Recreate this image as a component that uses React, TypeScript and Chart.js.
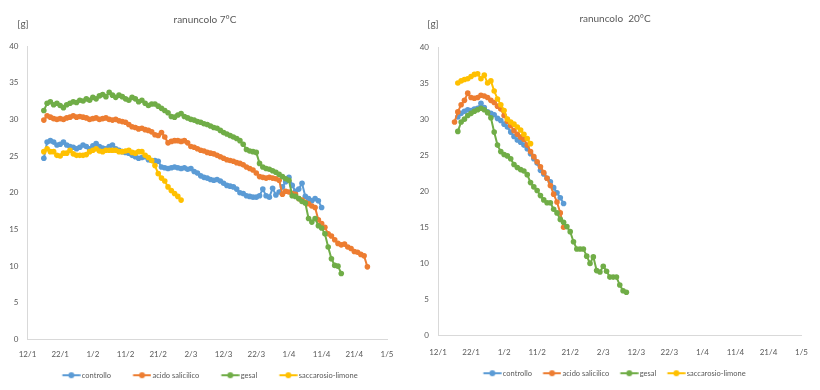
import React, { useEffect, useRef } from 'react';
import { Chart, registerables } from 'chart.js';

Chart.register(...registerables);

const FONT_FAMILY = 'Lato, "Liberation Sans", Arial, sans-serif';
const TEXT_COLOR = '#595959';
const AXIS_COLOR = '#d9d9d9';

// x axis: days counted from 12/1 (leap year 2016), one label every 10 days
const xTickLabels = ['12/1', '22/1', '1/2', '11/2', '21/2', '2/3', '12/3', '22/3', '1/4', '11/4', '21/4', '1/5'];

const seriesNames = ['controllo', 'acido salicilico', 'gesal', 'saccarosio-limone'];
const seriesColors = ['#5B9BD5', '#ED7D31', '#70AD47', '#FFC000'];

// ---------- ranuncolo 7°C (daily weights, first day = day offset from 12/1) ----------
const coldStartDays = [5, 5, 5, 5];
const coldControllo = [
  24.7, 26.9, 27.1, 26.9, 26.5, 26.6, 26.9, 26.5, 26.3, 26.2,
  26.0, 26.2, 26.5, 26.3, 26.0, 26.4, 26.7, 26.3, 26.1, 26.0,
  26.3, 26.5, 26.0, 25.8, 25.6, 25.5, 25.4, 25.1, 24.9, 24.7,
  24.8, 24.9, 24.5, 24.4, 24.4, 24.3, 23.5, 23.4, 23.3, 23.4,
  23.5, 23.4, 23.3, 23.4, 23.2, 23.3, 22.9, 22.7, 22.3, 22.1,
  22.0, 21.8, 21.7, 21.8, 21.6, 21.3, 21.0, 20.9, 20.8, 20.5,
  20.0, 19.9, 19.6, 19.5, 19.4, 19.4, 19.6, 20.5, 19.6, 19.4,
  20.6, 19.7, 20.1, 20.8, 21.5, 22.1, 21.0, 20.2, 20.5, 21.3,
  19.5, 19.2, 18.9, 19.2, 18.9, 18.0,
];
const coldAcido = [
  29.9, 30.5, 30.3, 30.1, 30.0, 30.1, 30.0, 30.2, 30.3, 30.5,
  30.3, 30.4, 30.3, 30.2, 30.0, 30.1, 30.2, 30.0, 30.1, 30.2,
  30.0, 29.9, 30.0, 29.8, 29.7, 29.6, 29.3, 29.0, 28.9, 28.7,
  28.8, 28.6, 28.5, 28.3, 27.9, 27.8, 28.2, 27.6, 26.8, 27.0,
  27.1, 27.1, 27.0, 27.1, 26.8, 26.3, 26.2, 26.0, 25.8, 25.7,
  25.5, 25.4, 25.3, 25.1, 24.9, 24.7, 24.5, 24.4, 24.3, 24.1,
  24.0, 23.8, 23.5, 23.3, 23.1, 22.7, 22.2, 22.1, 22.0, 22.1,
  22.0, 21.9, 21.7, 19.8, 20.2, 20.1, 19.9, 19.8, 19.2, 19.0,
  18.7, 18.5, 18.2, 18.0, 16.3, 15.8, 15.3, 14.4, 14.1, 13.6,
  13.1, 12.9, 13.0, 12.6, 12.4, 12.0, 11.9, 11.6, 11.4, 9.9,
];
const coldGesal = [
  31.2, 32.2, 32.4, 32.0, 32.2, 31.9, 31.6, 32.0, 32.2, 32.4,
  32.3, 32.6, 32.5, 32.8, 32.6, 33.0, 32.8, 33.2, 33.4, 33.1,
  33.7, 33.3, 33.0, 33.3, 33.1, 32.8, 32.6, 33.0, 32.8, 32.4,
  32.6, 32.2, 31.9, 32.1, 32.1, 31.8, 31.5, 31.2, 30.9, 30.4,
  30.3, 30.6, 30.8, 30.4, 30.2, 30.0, 29.9, 29.7, 29.6, 29.4,
  29.3, 29.1, 28.9, 28.8, 28.5, 28.2, 28.0, 27.8, 27.6, 27.4,
  27.1, 26.6, 25.9, 25.7, 25.6, 25.5, 24.0, 23.5, 23.3, 23.2,
  23.0, 22.8, 22.5, 22.2, 21.9, 21.7, 19.6, 19.5, 19.2, 18.8,
  18.6, 16.5, 16.0, 16.5, 15.5, 15.2, 14.4, 12.6, 11.0, 10.1,
  10.0, 9.0,
];
const coldSaccarosio = [
  25.6, 26.0, 25.6, 25.6, 25.1, 25.0, 25.4, 25.4, 25.8, 25.3,
  25.1, 25.1, 25.1, 25.2, 25.6, 25.8, 26.0, 25.7, 25.6, 25.8,
  25.8, 25.8, 25.8, 25.6, 25.6, 25.7, 25.8, 25.5, 25.4, 25.6,
  25.6, 25.1, 24.8, 24.4, 23.7, 22.6, 22.0, 21.6, 20.8, 20.3,
  19.9, 19.5, 19.0,
];

// ---------- ranuncolo 20°C ----------
const warmStartDays = [6, 5, 6, 6];
const warmControllo = [
  30.3, 30.8, 31.1, 31.3, 31.2, 31.4, 31.5, 32.2, 31.6, 31.0,
  30.8, 30.6, 30.1, 29.8, 29.3, 28.9, 28.2, 27.6, 27.1, 26.8,
  26.4, 25.9, 25.2, 24.5, 23.9, 22.9, 22.4, 21.8, 21.3, 20.5,
  19.8, 19.1, 18.3,
];
const warmAcido = [
  29.6, 31.0, 32.0, 32.6, 33.6, 33.0, 32.9, 33.0, 33.3, 33.2,
  33.0, 32.6, 32.3, 31.8, 31.4, 30.5, 29.7, 29.1, 28.4, 27.9,
  27.5, 27.2, 26.4, 25.5, 24.8, 24.1, 23.4, 22.6, 21.8, 20.8,
  19.6, 18.5, 17.0, 15.0,
];
const warmGesal = [
  28.3, 29.6, 30.0, 30.5, 30.8, 31.1, 31.3, 31.5, 31.3, 30.9,
  30.2, 28.2, 26.4, 25.5, 25.1, 24.9, 24.5, 23.7, 23.3, 23.0,
  22.8, 22.3, 21.2, 20.6, 20.1, 19.4, 18.8, 18.4, 18.4, 17.5,
  17.0, 16.1, 15.7, 15.1, 14.4, 13.0, 12.0, 12.0, 12.0, 11.0,
  10.0, 10.9, 9.0, 8.8, 9.6, 8.9, 8.1, 8.1, 8.1, 7.0,
  6.2, 6.0,
];
const warmSaccarosio = [
  35.0, 35.3, 35.5, 35.6, 35.9, 36.2, 36.3, 35.6, 36.1, 35.0,
  35.3, 33.9, 32.8, 32.0, 31.2, 30.0, 29.6, 29.3, 28.9, 28.5,
  27.9, 27.3, 26.6,
];

const coldSeries = [coldControllo, coldAcido, coldGesal, coldSaccarosio];
const warmSeries = [warmControllo, warmAcido, warmGesal, warmSaccarosio];

type Geom = {
  left: number;
  yAxisWidth: number;
  rightSpace: number;
  padBottom: number;
  titleTop: number;
  titleBottom: number;
  xAxisHeight: number;
  xTickPadding: number;
  unitX: number;
  unitY: number;
  legendGap: number;
};

const leftGeom: Geom = {
  left: 0, yAxisWidth: 27.5, rightSpace: 23, padBottom: 1,
  titleTop: 14, titleBottom: 20, xAxisHeight: 20, xTickPadding: 10,
  unitX: 23, unitY: 24, legendGap: 22,
};
const rightGeom: Geom = {
  left: 410, yAxisWidth: 28, rightSpace: 14, padBottom: 3,
  titleTop: 13, titleBottom: 22, xAxisHeight: 22, xTickPadding: 12,
  unitX: 23, unitY: 24, legendGap: 11,
};

const LEGEND_PADDING = 12;
const LEGEND_FONT = 7.5;
const LEGEND_LINE = 18;

// box width for a legend item so that the line sits `gap` px after the previous text
function legendBoxWidth(gap: number) {
  const lineStart = gap - LEGEND_PADDING;
  return lineStart + LEGEND_LINE + 1.5 - LEGEND_FONT / 2;
}

// legend symbol: short line with a dot; the canvas is centred on the legend box by Chart.js
function makeLegendIcon(color: string, gap: number) {
  const box = legendBoxWidth(gap);
  const lineStart = gap - LEGEND_PADDING;
  const centre = box / 2;
  const half = Math.max(centre - lineStart, lineStart + LEGEND_LINE - centre);
  const c = document.createElement('canvas');
  c.width = Math.ceil(half * 2);
  c.height = 8;
  const off = c.width / 2 - centre;
  const ctx = c.getContext('2d')!;
  ctx.strokeStyle = color;
  ctx.lineWidth = 2;
  ctx.beginPath();
  ctx.moveTo(off + lineStart, 4);
  ctx.lineTo(off + lineStart + LEGEND_LINE, 4);
  ctx.stroke();
  ctx.fillStyle = color;
  ctx.beginPath();
  ctx.arc(off + lineStart + LEGEND_LINE / 2, 4, 3, 0, Math.PI * 2);
  ctx.fill();
  return c;
}

const unitPlugin = {
  id: 'unitLabel',
  afterDraw(chart: any, _args: any, opts: any) {
    const ctx = chart.ctx;
    ctx.save();
    ctx.font = `10px ${FONT_FAMILY}`;
    ctx.fillStyle = TEXT_COLOR;
    ctx.textAlign = 'center';
    ctx.textBaseline = 'middle';
    ctx.fillText(opts.text, opts.x, opts.y);
    ctx.restore();
  },
};

function ChartPanel({ title, starts, series, geom }: { title: string; starts: number[]; series: number[][]; geom: Geom }) {
  const ref = useRef<HTMLCanvasElement | null>(null);
  useEffect(() => {
    if (!ref.current) return;
    const icons = seriesColors.map((c) => makeLegendIcon(c, geom.legendGap));
    const datasets = series.map((vals, i) => ({
      label: seriesNames[i],
      data: vals.map((v, k) => ({ x: starts[i] + k, y: v })),
      borderColor: seriesColors[i],
      backgroundColor: seriesColors[i],
      pointBackgroundColor: seriesColors[i],
      pointBorderColor: seriesColors[i],
      pointRadius: 2.8,
      pointBorderWidth: 0,
      borderWidth: 2,
      tension: 0,
      order: 4 - i,
    }));
    const chart = new Chart(ref.current, {
      type: 'line',
      data: { datasets },
      plugins: [unitPlugin as any],
      options: {
        animation: false,
        responsive: false,
        maintainAspectRatio: false,
        layout: { padding: { left: 0, right: 0, top: 0, bottom: geom.padBottom } },
        scales: {
          x: {
            type: 'linear',
            min: 0,
            max: 110,
            grid: { display: false, drawTicks: false },
            border: { display: true, color: AXIS_COLOR, width: 1 },
            ticks: {
              stepSize: 10,
              autoSkip: false,
              maxRotation: 0,
              padding: geom.xTickPadding,
              color: TEXT_COLOR,
              font: { family: FONT_FAMILY, size: 8 },
              callback: (v: any) => xTickLabels[Math.round(Number(v) / 10)] ?? '',
            },
            afterFit: (scale: any) => { scale.height = geom.xAxisHeight; },
          },
          y: {
            min: 0,
            max: 40,
            grid: { display: false, drawTicks: false },
            border: { display: true, color: AXIS_COLOR, width: 1 },
            ticks: {
              stepSize: 5,
              padding: 9,
              color: TEXT_COLOR,
              font: { family: FONT_FAMILY, size: 8 },
            },
            afterFit: (scale: any) => { scale.width = geom.yAxisWidth; },
          },
          // empty spacer on the right so title and legend stay centred on the whole panel
          spacer: {
            type: 'linear',
            position: 'right',
            display: true,
            grid: { display: false, drawTicks: false },
            border: { display: false },
            ticks: { display: false },
            afterFit: (scale: any) => { scale.width = geom.rightSpace; },
          },
        } as any,
        plugins: {
          title: {
            display: true,
            text: title,
            color: TEXT_COLOR,
            font: { family: FONT_FAMILY, size: 10, weight: 'normal' },
            padding: { top: geom.titleTop, bottom: geom.titleBottom },
          },
          legend: {
            display: true,
            position: 'bottom',
            labels: {
              usePointStyle: true,
              pointStyleWidth: legendBoxWidth(geom.legendGap),
              padding: LEGEND_PADDING,
              color: TEXT_COLOR,
              font: { family: FONT_FAMILY, size: LEGEND_FONT },
              generateLabels: (ch: any) =>
                ch.data.datasets.map((ds: any, i: number) => ({
                  text: ds.label,
                  fillStyle: ds.borderColor,
                  strokeStyle: ds.borderColor,
                  fontColor: TEXT_COLOR,
                  lineWidth: 0,
                  hidden: false,
                  datasetIndex: i,
                  pointStyle: icons[i],
                })),
            },
          },
          tooltip: { enabled: false },
          unitLabel: { text: '[g]', x: geom.unitX, y: geom.unitY },
        } as any,
      },
    });
    return () => chart.destroy();
  }, [title, starts, series, geom]);
  return (
    <div style={{ position: 'absolute', left: geom.left, top: 0, width: 410, height: 390 }}>
      <canvas ref={ref} width={410} height={390} style={{ display: 'block' }} />
    </div>
  );
}

export default function App() {
  return (
    <div style={{ position: 'fixed', left: 0, top: 0, width: 820, height: 390, background: '#ffffff', overflow: 'hidden' }}>
      <ChartPanel title="ranuncolo 7°C" starts={coldStartDays} series={coldSeries} geom={leftGeom} />
      <ChartPanel title="ranuncolo  20°C" starts={warmStartDays} series={warmSeries} geom={rightGeom} />
    </div>
  );
}
